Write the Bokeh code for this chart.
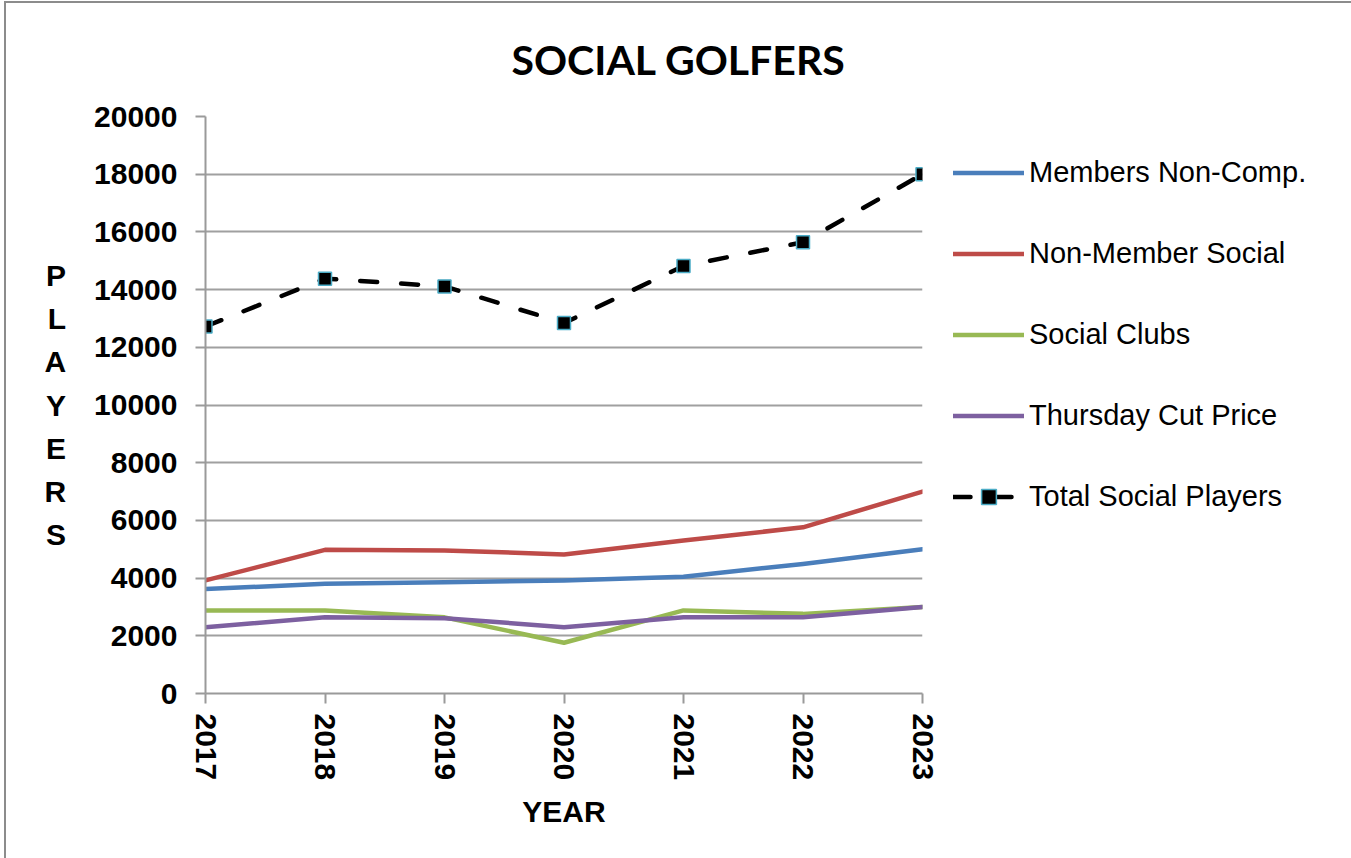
from bokeh.plotting import figure
from bokeh.models import (Range1d, FixedTicker, NumeralTickFormatter, Legend, LegendItem,
                          ColumnDataSource)
from bokeh.embed import file_html
from bokeh.resources import INLINE

# ---- data ----
years = [2017, 2018, 2019, 2020, 2021, 2022, 2023]
members_non_comp = [3620, 3800, 3860, 3920, 4050, 4490, 5000]
non_member_social = [3920, 4980, 4960, 4820, 5300, 5760, 7000]
social_clubs = [2880, 2880, 2640, 1760, 2880, 2760, 3000]
thursday_cut_price = [2300, 2640, 2610, 2300, 2640, 2640, 3000]
total_social = [12720, 14380, 14110, 12840, 14820, 15640, 18000]
y_ticks = [0, 2000, 4000, 6000, 8000, 10000, 12000, 14000, 16000, 18000, 20000]

series_names = ["Members Non-Comp.", "Non-Member Social", "Social Clubs", "Thursday Cut Price"]
series_values = [members_non_comp, non_member_social, social_clubs, thursday_cut_price]
series_colors = ["#4a7ebb", "#be4b48", "#98b954", "#7d60a0"]

FONT = "Liberation Sans"

p = figure(frame_width=717, frame_height=577, output_backend="svg", toolbar_location=None,
           x_range=Range1d(2017, 2023), y_range=Range1d(0, 20000),
           min_border_left=199, min_border_right=0, min_border_top=113, min_border_bottom=165)
p.margin = (1, 0, 0, 4)
p.styles = {"border-top": "2px solid #8c8c8c", "border-left": "2px solid #8c8c8c",
            "border-right": "2px solid #8c8c8c"}
p.outline_line_color = None
p.background_fill_color = "white"
p.border_fill_color = "white"

# title
p.title.text = "SOCIAL GOLFERS"
p.title.text_font = "Lato"
p.title.text_font_style = "bold"
p.title.text_font_size = "41px"
p.title.text_color = "black"
p.title.align = "left"
p.title.vertical_align = "top"
p.title.offset = 306
p.title.standoff = 61

# axes
for ax in (p.xaxis[0], p.yaxis[0]):
    ax.axis_line_color = "#9a9a9a"
    ax.axis_line_width = 2
    ax.major_tick_line_color = "#9a9a9a"
    ax.major_tick_line_width = 2
    ax.major_tick_out = 10
    ax.major_tick_in = 0
    ax.minor_tick_line_color = None
    ax.major_label_text_font = FONT
    ax.major_label_text_font_style = "bold"
    ax.major_label_text_font_size = "30px"
    ax.major_label_text_color = "black"
    ax.axis_label_text_font = FONT
    ax.axis_label_text_font_style = "bold"
    ax.axis_label_text_font_size = "30px"
    ax.axis_label_text_color = "black"

p.xaxis.ticker = FixedTicker(ticks=years)
p.xaxis.major_label_orientation = "vertical"
p.xaxis.major_label_standoff = 10
p.xaxis.axis_label = "YEAR"
p.xaxis.axis_label_standoff = 12

p.yaxis.ticker = FixedTicker(ticks=y_ticks)
p.yaxis.formatter = NumeralTickFormatter(format="0")
p.yaxis.major_label_standoff = 18
p.yaxis.axis_label = "\n".join("PLAYERS")
p.yaxis.axis_label_orientation = "horizontal"
p.yaxis.axis_label_text_line_height = 1.31
p.yaxis.axis_label_standoff = 25

p.xgrid.visible = False
p.ygrid.grid_line_color = "#a0a0a0"
p.ygrid.grid_line_width = 2

items = []
for name, vals, col in zip(series_names, series_values, series_colors):
    src = ColumnDataSource(dict(x=years, y=vals))
    r = p.line("x", "y", source=src, line_color=col, line_width=4.5,
               line_join="round", line_cap="round")
    items.append(LegendItem(label=name, renderers=[r]))

tsrc = ColumnDataSource(dict(x=years, y=total_social))
rl = p.line("x", "y", source=tsrc, line_color="black", line_width=4.5,
            line_dash="17 24", line_cap="round")
rs = p.scatter("x", "y", source=tsrc, marker="square", size=13, fill_color="black",
               line_color="#4bacc6", line_width=1.5)
items.append(LegendItem(label="Total Social Players", renderers=[rl, rs]))

legend = Legend(items=items, location="top_left", orientation="vertical")
legend.margin = 31
legend.padding = 0
legend.spacing = 30
legend.glyph_width = 71
legend.glyph_height = 37
legend.label_height = 51
legend.label_standoff = 5
legend.label_text_font = FONT
legend.label_text_font_size = "29px"
legend.label_text_color = "black"
legend.border_line_color = None
legend.background_fill_alpha = 0
p.add_layout(legend, "right")

open("out.html", "w").write(file_html(p, INLINE))
